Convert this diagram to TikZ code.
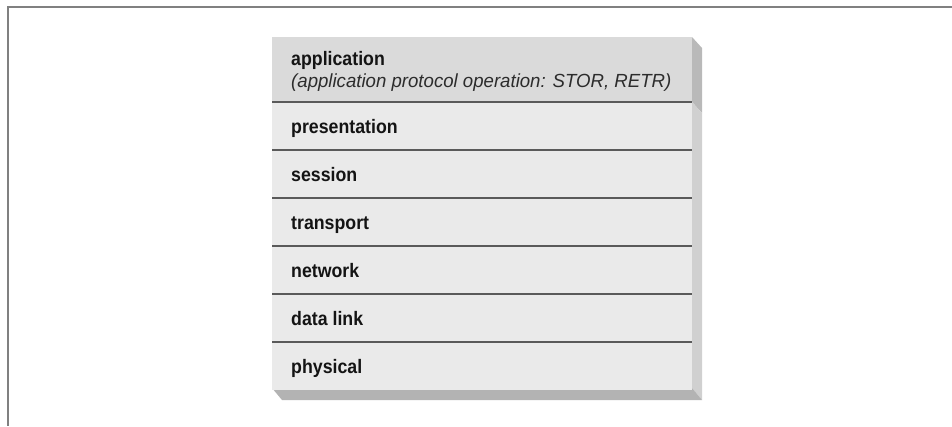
\documentclass[tikz,border=0pt]{standalone}
\usepackage{fontspec}
\setmainfont{Liberation Sans}
\usetikzlibrary{calc}
\definecolor{framec}{HTML}{808080}
\definecolor{approw}{HTML}{DADADA}
\definecolor{rowc}{HTML}{EAEAEA}
\definecolor{sidetop}{HTML}{B9B9B9}
\definecolor{sidelow}{HTML}{D0D0D0}
\definecolor{bottomc}{HTML}{B3B3B3}
\definecolor{sepc}{HTML}{5A5A5A}
\definecolor{txt}{HTML}{141414}
\newcommand{\condtxt}[1]{\scalebox{0.91}[1]{#1}}
\begin{document}
\begin{tikzpicture}[x=1pt,y=-1pt,
  rowbox/.style={draw=none,fill=rowc,minimum width=420pt,inner sep=0pt,outer sep=0pt},
  lbl/.style={anchor=base west,inner sep=0pt,text=txt,font=\fontsize{19.5}{22}\selectfont\bfseries},
  sublbl/.style={anchor=base west,inner sep=0pt,text=txt!90,font=\fontsize{19}{22}\selectfont\itshape},
  sep/.style={draw=sepc,line width=1.6pt},
  frameline/.style={draw=framec,line width=2.4pt}]
\useasboundingbox (0,0) rectangle (952,426);
% frame
\coordinate (ftr) at (952,7);
\coordinate (ftl) at (8,7);
\coordinate (fbl) at (8,426);
\draw[frameline] (ftr) -- (ftl) -- (fbl);
% 3D faces
\fill[sidetop] (692,37) -- (702,48) -- (702,113) -- (692,102) -- cycle;
\fill[sidelow] (692,102) -- (702,113) -- (702,400) -- (692,388) -- cycle;
\fill[bottomc] (272,388) -- (692,388) -- (702,400) -- (282,400) -- cycle;
% rows
\node[rowbox,fill=approw,minimum height=65pt] (app) at (482,69.5) {};
\node[rowbox,minimum height=48pt] (pres) at (482,126) {};
\node[rowbox,minimum height=48pt] (sess) at (482,174) {};
\node[rowbox,minimum height=48pt] (trans) at (482,222) {};
\node[rowbox,minimum height=48pt] (net) at (482,270) {};
\node[rowbox,minimum height=48pt] (dl) at (482,318) {};
\node[rowbox,minimum height=48pt] (phys) at (482,366) {};
% separators
\draw[sep] (app.south west) -- (app.south east);
\draw[sep] (pres.south west) -- (pres.south east);
\draw[sep] (sess.south west) -- (sess.south east);
\draw[sep] (trans.south west) -- (trans.south east);
\draw[sep] (net.south west) -- (net.south east);
\draw[sep] (dl.south west) -- (dl.south east);
% labels
\node[lbl] (tapp) at (291,65) {\condtxt{application}};
\node[sublbl] (tappsub) at (291,87) {\scalebox{0.98}[1]{(application protocol operation: STOR, RETR)}};
\node[lbl] (tpres) at (291,133) {\condtxt{presentation}};
\node[lbl] (tsess) at (291,181) {\condtxt{session}};
\node[lbl] (ttrans) at (291,229) {\condtxt{transport}};
\node[lbl] (tnet) at (291,277) {\condtxt{network}};
\node[lbl] (tdl) at (291,325) {\condtxt{data link}};
\node[lbl] (tphys) at (291,373) {\condtxt{physical}};
\end{tikzpicture}
\end{document}
